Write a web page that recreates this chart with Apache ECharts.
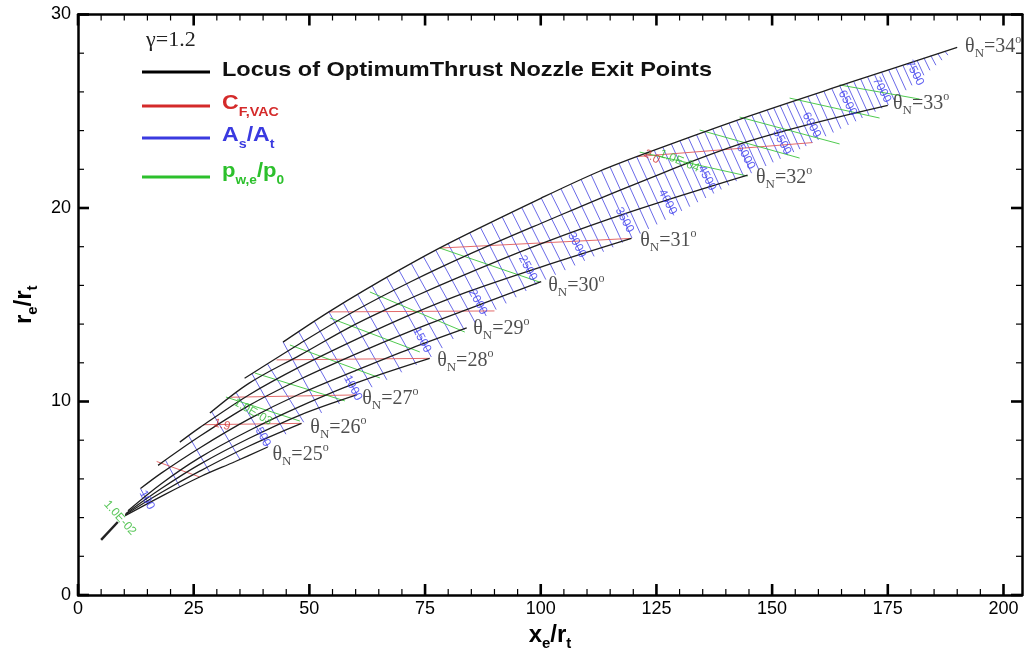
<!DOCTYPE html>
<html><head><meta charset="utf-8">
<script src="https://cdn.jsdelivr.net/npm/echarts@6/dist/echarts.min.js"></script>
<style>html,body{margin:0;padding:0;background:#fff}#c{width:1026px;height:650px}</style>
</head><body><div id="c"></div>
<script>
// ---------- axis ticks ----------
const xTickLabels = [0,25,50,75,100,125,150,175,200];
const yTickLabels = [0,10,20,30];
const xMax = 204;
const xMinorPerMajor = 5, yMinorPerMajor = 5;

// ---------- constant theta_N curves (locus of optimum thrust exit points) ----------
const thetaValues = [25,26,27,28,29,30,31,32,33,34];
const curve25 = [[10.2,4.1],[18,5.1],[26.3,6.1],[34,6.9],[41,7.65]];
const curve26 = [[10.2,4.15],[18,5.3],[26.3,6.4],[37,7.7],[48.3,8.87]];
const curve27 = [[10.3,4.2],[18,5.5],[26.3,6.75],[37,8.1],[48,9.3],[60.2,10.34]];
const curve28 = [[10.8,4.35],[18,5.75],[26.3,7.1],[37,8.5],[48,9.75],[60,10.95],[76,12.23]];
const curve29 = [[13.5,5.5],[18,6.3],[26.3,7.6],[37,9.1],[48,10.4],[60,11.6],[72,12.75],[84,13.8]];
const curve30 = [[17.3,6.7],[26.3,8.2],[37,9.8],[48,11.15],[60,12.45],[72,13.65],[84,14.75],[100.1,16.19]];
const curve31 = [[22,7.9],[26.3,8.65],[37,10.35],[48,11.8],[60,13.2],[72,14.5],[84,15.65],[100,16.95],[119.6,18.43]];
const curve32 = [[28.5,9.4],[37,10.95],[48,12.4],[60,14.0],[72,15.35],[84,16.6],[100,18.15],[120,19.85],[144.7,21.7]];
const curve33 = [[36,11.2],[48,13.0],[60,14.7],[72,16.2],[84,17.55],[100,19.2],[120,21.2],[145,23.45],[175,25.3]];
const curve34 = [[44.3,13.07],[55,14.75],[69.5,16.8],[80.3,18.2],[100,20.5],[112.7,21.9],[123.5,22.9],[145,24.75],[167,26.5],[190,28.3]];
const throatSegment = [[5.0,2.85],[8.6,3.77]];
// label anchors (left-middle of text) for theta_N labels
const thetaLabelPos = [[41.9,7.24],[50.1,8.63],[61.3,10.13],[77.5,12.09],[85.3,13.75],[101.5,15.97],[121.4,18.29],[146.4,21.55],[176.0,25.37],[191.6,28.32]];

// ---------- constant As/At lines (every 100) : top and bottom end points ----------
const blueTop = [
[13.5,5.5],[18.9,6.97],[23.9,8.23],[28.9,9.47],[34.21,10.45],[37.58,11.44],[40.95,11.94],[44.33,13.07],[47.70,13.6],[51.08,14.13],
[54.21,14.63],[57.34,15.08],[60.46,15.52],[63.59,15.96],[66.72,16.41],[69.37,16.78],[72.02,17.13],[74.68,17.47],[77.33,17.81],[79.98,18.16],
[82.32,18.44],[84.66,18.71],[87.0,18.98],[89.34,19.26],[91.68,19.53],[93.79,19.77],[95.90,20.02],[98.00,20.27],[100.11,20.51],[102.22,20.74],
[104.39,20.98],[106.57,21.22],[108.74,21.46],[110.92,21.70],[113.09,21.94],[115.00,22.11],[116.92,22.29],[118.83,22.47],[120.75,22.64],[122.66,22.82],
[124.51,22.99],[126.36,23.15],[128.22,23.31],[130.07,23.47],[131.92,23.62],[133.67,23.78],[135.42,23.93],[137.17,24.08],[138.92,24.23],[140.67,24.38],
[142.32,24.52],[143.97,24.66],[145.62,24.80],[147.27,24.93],[148.92,25.06],[150.34,25.17],[151.75,25.29],[153.17,25.40],[154.58,25.51],[156.00,25.62],
[157.72,25.76],[159.45,25.90],[161.17,26.04],[162.90,26.17],[164.62,26.31],[166.12,26.43],[167.62,26.55],[169.12,26.67],[170.62,26.78],[172.12,26.90],
[173.65,27.02],[175.18,27.14],[176.72,27.26],[178.25,27.38],[179.78,27.50],[181.3,27.64],[182.8,27.76],[184.3,27.87],[185.8,27.99],[187.3,28.11]];
const blueBottom = [
[15.2,4.75],[22.0,5.58],[28.5,6.33],[35.0,7.01],[41.08,7.66],[44.93,8.31],[48.78,8.93],[52.64,9.41],[56.49,9.88],[60.35,10.36],
[63.55,10.74],[66.75,11.12],[69.95,11.51],[73.15,11.89],[76.35,12.30],[78.72,12.76],[81.09,13.23],[83.47,13.70],[85.84,14.07],[88.21,14.42],
[90.37,14.75],[92.53,15.07],[94.69,15.39],[96.85,15.71],[99.01,16.03],[101.10,16.30],[103.20,16.55],[105.29,16.79],[107.39,17.03],[109.48,17.27],
[111.53,17.50],[113.57,17.74],[115.62,17.97],[117.67,18.21],[119.72,18.45],[121.52,18.68],[123.33,18.92],[125.13,19.15],[126.94,19.39],[128.74,19.62],
[130.47,19.85],[132.20,20.07],[133.93,20.30],[135.66,20.52],[137.39,20.75],[139.02,20.96],[140.65,21.17],[142.29,21.39],[143.92,21.60],[145.55,21.80],
[147.11,21.99],[148.67,22.17],[150.23,22.36],[151.79,22.54],[153.35,22.73],[154.68,22.89],[156.01,23.04],[157.34,23.20],[158.67,23.36],[160.00,23.52],
[161.62,23.71],[163.24,23.90],[164.86,24.10],[166.48,24.29],[168.10,24.48],[169.50,24.65],[170.91,24.81],[172.31,24.98],[173.72,25.15],[175.12,25.32],
[176.39,25.58],[177.67,25.83],[178.94,26.09],[180.22,26.34],[181.49,26.60],[182.8,26.86],[184.1,27.12],[185.4,27.38],[186.7,27.64],[188.0,27.90]];
const blueLabelText = ['100','500','1000','1500','2000','2500','3000','3500','4000','4500','5000','5500','6000','6500','7000','7500'];
const blueLabelPos = [[14.9,4.91],[39.96,8.17],[59.4,10.70],[74.3,13.18],[86.4,15.14],[97.2,16.9],[107.8,18.09],[118.1,19.38],[127.4,20.31],[135.9,21.55],[144.3,22.64],[152.1,23.41],[158.5,24.29],[166.3,25.43],[173.7,26.10],[180.8,26.98]];

// ---------- constant CF,vac lines ----------
const redStart = [[17.0,6.9],[27.0,8.80],[33.0,10.22],[42.9,12.15],[54.2,14.63],[78.2,17.93],[121.0,22.66]];
const redEnd   = [[26.3,6.1],[48.3,8.87],[60.2,10.34],[76.0,12.23],[90.0,14.68],[119.6,18.43],[158.7,23.38]];
const redLabelText = ['1.9','2.0'];
const redLabelPos = [[31.1,8.79],[124.0,22.64]];

// ---------- constant pw,e/p0 lines ----------
const greenStart = [[31.97,10.23],[38.23,11.47],[45.79,12.92],[54.43,14.32],[63.07,15.66],[78.19,17.93],[121.38,22.89],[134.34,24.03],[142.98,24.7],[153.78,25.68],[164.58,26.36]];
const greenEnd   = [[47.95,8.99],[57.67,10.03],[65.23,11.22],[73.87,12.56],[83.59,13.59],[99.78,16.17],[144.71,21.65],[155.94,22.58],[164.58,23.31],[173.22,24.65],[181.86,25.63]];
const greenLabelText = ['1.0E-02','1.0E-03','1.0E-04'];
const greenLabelPos = [[9.07,3.98],[37.8,9.46],[130.0,22.43]];

// ---------- build ----------
const curves = [curve25,curve26,curve27,curve28,curve29,curve30,curve31,curve32,curve33,curve34];
const SERIF = "'Liberation Serif','Times New Roman',serif";
const SANS = "'Liberation Sans',Arial,sans-serif";
const LOCUS = 'Locus of OptimumThrust Nozzle Exit Points';
const xMin = xTickLabels[0], yMin = yTickLabels[0], yMax = yTickLabels[yTickLabels.length-1];
const xStep = xTickLabels[1]-xTickLabels[0];
const yStep = yTickLabels[1]-yTickLabels[0];

// tick marks on all four sides: each is a short segment drawn from the frame inward
const xMajorTicks = xTickLabels.slice();
const xMinorTicks = [];
xTickLabels.forEach(v=>{ for (let k=1;k<xMinorPerMajor;k++){ const m=v+k*xStep/xMinorPerMajor; if (m<xMax) xMinorTicks.push(m); } });
const yMajorTicks = yTickLabels.slice();
const yMinorTicks = [];
yTickLabels.slice(0,-1).forEach(v=>{ for (let k=1;k<yMinorPerMajor;k++) yMinorTicks.push(v+k*yStep/yMinorPerMajor); });

function tickSeries(values, isX, major){
  return {type:'custom', coordinateSystem:'cartesian2d', silent:true, clip:false, z:20,
    data: values.map(v => isX ? [v, yMin] : [xMin, v]),
    renderItem: function(params, api){
      const L = major ? 11 : 6;
      const w = major ? 2.6 : 1.2;
      const a = isX ? api.coord([api.value(0), yMin]) : api.coord([xMin, api.value(1)]);
      const b = isX ? api.coord([api.value(0), yMax]) : api.coord([xMax, api.value(1)]);
      const seg1 = isX ? {x1:a[0],y1:a[1],x2:a[0],y2:a[1]-L} : {x1:a[0],y1:a[1],x2:a[0]+L,y2:a[1]};
      const seg2 = isX ? {x1:b[0],y1:b[1],x2:b[0],y2:b[1]+L} : {x1:b[0],y1:b[1],x2:b[0]-L,y2:b[1]};
      return {type:'group', children:[
        {type:'line', shape:seg1, style:{stroke:'#000', lineWidth:w}},
        {type:'line', shape:seg2, style:{stroke:'#000', lineWidth:w}}]};
    }};
}

const series = [];
curves.forEach((c,i)=>{
  series.push({type:'line', name:LOCUS, data:c, showSymbol:false, smooth:0.35, silent:true,
    lineStyle:{color:'#1e1e1e', width:1.3}, z:5});
});
series.push({type:'line', name:LOCUS, data:throatSegment, showSymbol:false, silent:true,
  lineStyle:{color:'#222', width:2.4}, z:5});
series.push({type:'lines', coordinateSystem:'cartesian2d', name:'As/At', silent:true, z:2,
  lineStyle:{color:'#5a5ae6', width:1, opacity:0.9},
  data: blueTop.map((p,i)=>({coords:[p, blueBottom[i]]}))});
series.push({type:'lines', coordinateSystem:'cartesian2d', name:'CF', silent:true, z:3,
  lineStyle:{color:'#e05a5a', width:1, opacity:0.9},
  data: redStart.map((p,i)=>({coords:[p, redEnd[i]]}))});
series.push({type:'lines', coordinateSystem:'cartesian2d', name:'pw', silent:true, z:3,
  lineStyle:{color:'#3cc43c', width:1, opacity:0.9},
  data: greenStart.map((p,i)=>({coords:[p, greenEnd[i]]}))});

// theta labels
series.push({type:'scatter', silent:true, symbolSize:1, itemStyle:{color:'rgba(0,0,0,0)'}, z:10,
  data: thetaLabelPos.map((p,i)=>({value:p, name:String(thetaValues[i])})),
  label:{show:true, position:'right', distance:0,
    formatter: p => '{t|θ}{s|N}{t|=' + p.name + '}{p|o}',
    rich:{
      t:{fontFamily:SERIF, fontSize:20, color:'#222', lineHeight:26, verticalAlign:'middle'},
      s:{fontFamily:SERIF, fontSize:13, color:'#222', lineHeight:12, verticalAlign:'bottom'},
      p:{fontFamily:SERIF, fontSize:12, color:'#222', lineHeight:13, verticalAlign:'top'}
    }}});
// blue labels
series.push({type:'scatter', silent:true, symbolSize:1, itemStyle:{color:'rgba(0,0,0,0)'}, z:10,
  data: blueLabelPos.map((p,i)=>({value:p, name:blueLabelText[i]})),
  label:{show:true, position:'inside', formatter:p=>p.name, rotate:-62,
    fontFamily:SANS, fontSize:12, color:'#3c3cf0'}});
series.push({type:'scatter', silent:true, symbolSize:1, itemStyle:{color:'rgba(0,0,0,0)'}, z:10,
  data: redLabelPos.map((p,i)=>({value:p, name:redLabelText[i], label:{rotate: i===0 ? -15 : -30}})),
  label:{show:true, position:'inside', formatter:p=>p.name,
    fontFamily:SANS, fontSize:12, color:'#d03030'}});
series.push({type:'scatter', silent:true, symbolSize:1, itemStyle:{color:'rgba(0,0,0,0)'}, z:10,
  data: greenLabelPos.map((p,i)=>({value:p, name:greenLabelText[i], label:{rotate: [-48,-30,-22][i]}})),
  label:{show:true, position:'inside', formatter:p=>p.name,
    fontFamily:SANS, fontSize:12, color:'#30b830'}});
series.push(tickSeries(xMajorTicks, true, true));
series.push(tickSeries(xMinorTicks, true, false));
series.push(tickSeries(yMajorTicks, false, true));
series.push(tickSeries(yMinorTicks, false, false));

const axisLineStyle = {show:true, onZero:false, lineStyle:{color:'#000', width:2.5}};
const nameRich = {
  m:{fontFamily:SANS, fontSize:24, fontWeight:'bold', color:'#000', lineHeight:28, verticalAlign:'top'},
  s:{fontFamily:SANS, fontSize:15, fontWeight:'bold', color:'#000', lineHeight:15, verticalAlign:'bottom'}
};
const tickFont = {fontFamily:SANS, fontSize:18, color:'#000'};

const option = {
  animation:false,
  backgroundColor:'#fff',
  grid:{left:78, right:4, top:14.5, bottom:55, containLabel:false, outerBoundsMode:'none'},
  xAxis:[
    {type:'value', position:'bottom', min:xMin, max:xMax, interval:xStep,
     axisLine:axisLineStyle, splitLine:{show:false}, axisTick:{show:false}, minorTick:{show:false},
     axisLabel:Object.assign({show:true, showMaxLabel:false, margin:5}, tickFont),
     name:'{m|x}{s|e}{m|/r}{s|t}', nameLocation:'middle', nameGap:16, nameTextStyle:{rich:nameRich}},
    {type:'value', position:'top', min:xMin, max:xMax, interval:xStep,
     axisLine:axisLineStyle, splitLine:{show:false}, axisTick:{show:false}, minorTick:{show:false},
     axisLabel:{show:false}}
  ],
  yAxis:[
    {type:'value', position:'left', min:yMin, max:yMax, interval:yStep,
     axisLine:axisLineStyle, splitLine:{show:false}, axisTick:{show:false}, minorTick:{show:false},
     axisLabel:Object.assign({show:true, margin:7}, tickFont),
     name:'{m|r}{s|e}{m|/r}{s|t}', nameLocation:'middle', nameGap:34, nameTextStyle:{rich:nameRich}},
    {type:'value', position:'right', min:yMin, max:yMax, interval:yStep,
     axisLine:axisLineStyle, splitLine:{show:false}, axisTick:{show:false}, minorTick:{show:false},
     axisLabel:{show:false}}
  ],
  graphic:[
    {type:'text', x:146, y:29, style:{text:'γ=1.2', font:"22px 'Liberation Serif', serif", fill:'#222'}},
    {type:'line', shape:{x1:142,y1:72,x2:210,y2:72}, style:{stroke:'#000', lineWidth:3}},
    {type:'line', shape:{x1:142,y1:106,x2:210,y2:106}, style:{stroke:'#d42a2a', lineWidth:3}},
    {type:'line', shape:{x1:142,y1:138,x2:210,y2:138}, style:{stroke:'#3a3ae0', lineWidth:3}},
    {type:'line', shape:{x1:142,y1:177,x2:210,y2:177}, style:{stroke:'#2cc02c', lineWidth:3}},
    {type:'text', x:222, y:70, scaleX:1.12, style:{text:LOCUS, font:"bold 21px 'Liberation Sans', Arial", fill:'#111', verticalAlign:'middle'}},
    {type:'text', x:222, y:106, scaleX:1.1, style:{text:'{a|C}{b|F,VAC}', verticalAlign:'middle', rich:{
      a:{fontFamily:SANS, fontSize:21, fontWeight:'bold', fill:'#d42a2a', lineHeight:26, verticalAlign:'top'},
      b:{fontFamily:SANS, fontSize:13, fontWeight:'bold', fill:'#d42a2a', lineHeight:13, verticalAlign:'bottom'}}}},
    {type:'text', x:222, y:138, scaleX:1.1, style:{text:'{a|A}{b|s}{a|/A}{b|t}', verticalAlign:'middle', rich:{
      a:{fontFamily:SANS, fontSize:21, fontWeight:'bold', fill:'#3a3ae0', lineHeight:26, verticalAlign:'top'},
      b:{fontFamily:SANS, fontSize:13, fontWeight:'bold', fill:'#3a3ae0', lineHeight:13, verticalAlign:'bottom'}}}},
    {type:'text', x:222, y:174, scaleX:1.05, style:{text:'{a|p}{b|w,e}{a|/p}{b|0}', verticalAlign:'middle', rich:{
      a:{fontFamily:SANS, fontSize:21, fontWeight:'bold', fill:'#2cc02c', lineHeight:26, verticalAlign:'top'},
      b:{fontFamily:SANS, fontSize:13, fontWeight:'bold', fill:'#2cc02c', lineHeight:13, verticalAlign:'bottom'}}}}
  ],
  series: series
};
echarts.init(document.getElementById('c')).setOption(option);
</script>
</body></html>
